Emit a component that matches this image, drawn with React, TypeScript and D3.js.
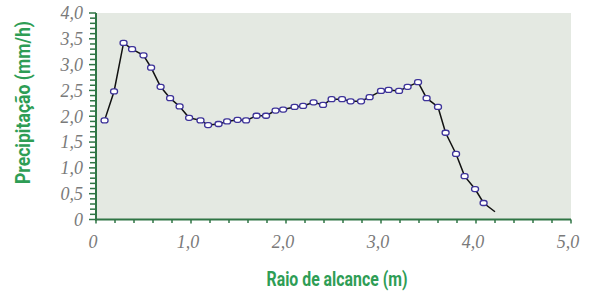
import { useEffect, useRef } from "react";
import * as d3 from "d3";

// raio de alcance (m) x precipitação (mm/h)
const raio = [
  0.09, 0.19, 0.29, 0.38, 0.5, 0.58, 0.68, 0.78, 0.88, 0.98, 1.1, 1.18, 1.29, 1.38, 1.49,
  1.58, 1.69, 1.79, 1.89, 1.97, 2.09, 2.18, 2.29, 2.39, 2.48, 2.59, 2.68, 2.79, 2.88, 3.0,
  3.08, 3.19, 3.28, 3.39, 3.48, 3.6, 3.68, 3.79, 3.88, 3.99, 4.08, 4.2,
];
const precip = [
  1.92, 2.48, 3.42, 3.3, 3.18, 2.94, 2.57, 2.35, 2.19, 1.97, 1.92, 1.83, 1.85, 1.9, 1.93,
  1.92, 2.01, 2.01, 2.11, 2.13, 2.18, 2.2, 2.27, 2.22, 2.33, 2.33, 2.29, 2.29, 2.37, 2.49,
  2.51, 2.49, 2.57, 2.66, 2.35, 2.18, 1.68, 1.27, 0.84, 0.59, 0.32, 0.15,
];
const yTicks = ["0", "0,5", "1,0", "1,5", "2,0", "2,5", "3,0", "3,5", "4,0"];
const xTicks = ["0", "1,0", "2,0", "3,0", "4,0", "5,0"];

export default function App() {
  const ref = useRef<SVGSVGElement>(null);

  useEffect(() => {
    const svg = d3.select(ref.current);
    svg.selectAll("*").remove();

    const left = 96, right = 571, top = 13, bottom = 219.5;
    const green = "#2f7545";
    const titleGreen = "#2e9d55";

    const x = d3.scaleLinear().domain([0, 5]).range([left, right]);
    const y = d3.scaleLinear().domain([0, 4]).range([bottom, top]);

    svg.append("rect")
      .attr("x", left).attr("y", top)
      .attr("width", right - left).attr("height", bottom - top)
      .attr("fill", "#e4e9e2");

    // minor ticks
    const yMinor = d3.range(0, 41).map((d) => d / 10);
    svg.selectAll(".ytick").data(yMinor).enter().append("line")
      .attr("x1", (d, i) => (i % 5 === 0 ? left - 7 : left - 6)).attr("x2", left)
      .attr("y1", (d) => y(d)).attr("y2", (d) => y(d))
      .attr("stroke", green).attr("stroke-width", 1.5);

    const xMinor = d3.range(0, 26).map((d) => d / 5);
    svg.selectAll(".xtick").data(xMinor).enter().append("line")
      .attr("x1", (d) => x(d)).attr("x2", (d) => x(d))
      .attr("y1", bottom).attr("y2", (d, i) => (i % 5 === 0 ? bottom + 4 : bottom + 3.5))
      .attr("stroke", green).attr("stroke-width", 1.5);

    svg.append("line")
      .attr("x1", left).attr("x2", left).attr("y1", top).attr("y2", bottom + 1)
      .attr("stroke", green).attr("stroke-width", 2);
    svg.append("line")
      .attr("x1", left - 1).attr("x2", right).attr("y1", bottom).attr("y2", bottom)
      .attr("stroke", green).attr("stroke-width", 2);

    // tick labels
    const tickFont = "'Liberation Serif', 'DejaVu Serif', serif";
    svg.selectAll(".ylab").data(yTicks).enter().append("text")
      .attr("x", left - 13)
      .attr("y", (d, i) => y(i * 0.5))
      .attr("dy", "0.35em")
      .attr("text-anchor", "end")
      .attr("font-family", tickFont).attr("font-style", "italic")
      .attr("font-size", 18).attr("fill", "#7a7a7a")
      .text((d) => d);

    svg.selectAll(".xlab").data(xTicks).enter().append("text")
      .attr("x", (d, i) => x(i) - 3)
      .attr("y", 242)
      .attr("dy", "0.35em")
      .attr("text-anchor", "middle")
      .attr("font-family", tickFont).attr("font-style", "italic")
      .attr("font-size", 18).attr("fill", "#7a7a7a")
      .text((d) => d);

    // axis titles (condensed bold)
    const titleFont = "Roboto, 'Liberation Sans', sans-serif";
    svg.append("text")
      .attr("x", 337).attr("y", 286)
      .attr("text-anchor", "middle")
      .attr("font-family", titleFont).attr("font-weight", "bold")
      .attr("font-size", 20).attr("fill", titleGreen)
      .attr("textLength", 141).attr("lengthAdjust", "spacingAndGlyphs")
      .text("Raio de alcance (m)");
    svg.append("text")
      .attr("transform", "translate(30,102.5) rotate(-90)")
      .attr("text-anchor", "middle")
      .attr("font-family", titleFont).attr("font-weight", "bold")
      .attr("font-size", 20).attr("fill", titleGreen)
      .attr("textLength", 163).attr("lengthAdjust", "spacingAndGlyphs")
      .text("Precipitação (mm/h)");

    // data line
    const pts = raio.map((r, i) => [r, precip[i]] as [number, number]);
    const line = d3.line<[number, number]>().x((d) => x(d[0])).y((d) => y(d[1]));
    svg.append("path")
      .attr("d", line(pts))
      .attr("fill", "none").attr("stroke", "#111").attr("stroke-width", 1.5);

    // markers (last point is the line end, no marker)
    svg.selectAll(".pt").data(pts.slice(0, -1)).enter().append("rect")
      .attr("x", (d) => x(d[0]) - 3.5).attr("y", (d) => y(d[1]) - 2.5)
      .attr("width", 7).attr("height", 5).attr("rx", 2.5)
      .attr("fill", "#fff").attr("stroke", "#3d3399").attr("stroke-width", 1.3);
  }, []);

  return (
    <svg
      ref={ref}
      width={598}
      height={294}
      style={{ position: "absolute", left: 0, top: 0, background: "#fff" }}
    />
  );
}
